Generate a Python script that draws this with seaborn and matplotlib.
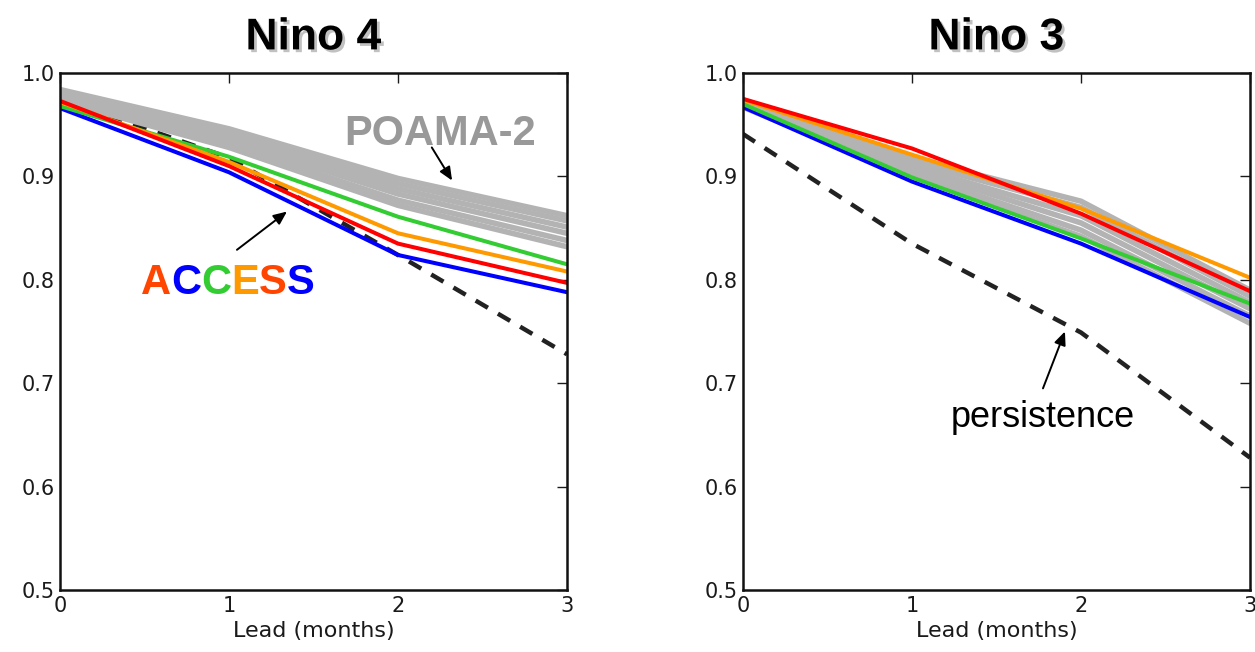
import matplotlib
matplotlib.use("Agg")
import matplotlib.pyplot as plt
import matplotlib.patheffects as pe
from matplotlib.offsetbox import TextArea, HPacker, AnnotationBbox
import pandas as pd
import seaborn as sns

LEAD = [0, 1, 2, 3]

# Nino 4 -- ACCESS members
N4_RED = [0.973, 0.910, 0.835, 0.797]
N4_ORANGE = [0.972, 0.914, 0.845, 0.808]
N4_GREEN = [0.968, 0.919, 0.861, 0.815]
N4_BLUE = [0.966, 0.904, 0.824, 0.788]
N4_PERSIST = [0.975, 0.918, 0.824, 0.728]
# Nino 4 -- POAMA-2 members (one list per lead)
N4_POAMA_L0 = [0.984, 0.981, 0.979, 0.977, 0.975, 0.973]
N4_POAMA_L1 = [0.946, 0.942, 0.939, 0.935, 0.931, 0.928]
N4_POAMA_L2 = [0.898, 0.893, 0.888, 0.883, 0.877, 0.872]
N4_POAMA_L3 = [0.862, 0.857, 0.851, 0.845, 0.838, 0.832]

# Nino 3
N3_RED = [0.975, 0.927, 0.864, 0.789]
N3_ORANGE = [0.974, 0.921, 0.869, 0.802]
N3_GREEN = [0.970, 0.899, 0.840, 0.777]
N3_BLUE = [0.967, 0.895, 0.835, 0.764]
N3_PERSIST = [0.941, 0.835, 0.749, 0.628]
N3_POAMA_L0 = [0.974, 0.972, 0.970, 0.969, 0.968, 0.967]
N3_POAMA_L1 = [0.918, 0.914, 0.910, 0.907, 0.903, 0.900]
N3_POAMA_L2 = [0.876, 0.870, 0.862, 0.855, 0.848, 0.842]
N3_POAMA_L3 = [0.790, 0.784, 0.778, 0.772, 0.765, 0.758]

ACCESS_NAMES = ["blue", "green", "orange", "red"]
ACCESS_COLORS = {"blue": "#0000ff", "green": "#33cc33", "orange": "#ff9900", "red": "#ff0000"}
LETTERS = list("ACCESS")
LETTER_COLORS = ["#ff4500", "#0000ff", "#33cc33", "#ff9900", "#ff4500", "#0000ff"]

YTICKS = [0.5, 0.6, 0.7, 0.8, 0.9, 1.0]


def access_frame(series):
    rows = []
    for name, vals in zip(ACCESS_NAMES, series):
        for lead, v in zip(LEAD, vals):
            rows.append({"lead": lead, "skill": v, "run": name})
    return pd.DataFrame(rows)


def poama_frame(per_lead):
    rows = []
    for lead, vals in zip(LEAD, per_lead):
        for member, v in enumerate(vals):
            rows.append({"lead": lead, "skill": v, "member": member})
    return pd.DataFrame(rows)


def draw_panel(ax, title, access, poama, persist):
    sns.lineplot(x=LEAD, y=persist, ax=ax, color="#222222", lw=3.2,
                 linestyle=(0, (3.2, 2.6)))
    sns.lineplot(data=poama_frame(poama), x="lead", y="skill", units="member",
                 estimator=None, ax=ax, color="#b3b3b3", lw=4.0)
    sns.lineplot(data=access_frame(access), x="lead", y="skill", hue="run",
                 palette=ACCESS_COLORS, ax=ax, lw=2.9, legend=False)
    ax.set_xlim(0, 3)
    ax.set_ylim(0.5, 1.0)
    ax.set_xticks(LEAD)
    ax.set_yticks(YTICKS)
    ax.set_yticklabels([f"{t:.1f}" for t in YTICKS])
    ax.set_xlabel("Lead (months)", fontsize=16, family="DejaVu Sans", color="#1a1a1a")
    ax.set_ylabel("")
    ax.tick_params(direction="in", top=True, right=True, length=7, width=1,
                   labelsize=15, pad=4, colors="#1a1a1a")
    for s in ax.spines.values():
        s.set_linewidth(1.8)
        s.set_color("#111111")
        s.set_visible(True)
    t = ax.set_title(title, fontsize=32, fontweight="bold", family="Liberation Sans",
                     color="black", pad=17)
    t.set_path_effects([pe.SimplePatchShadow(offset=(2, -2), shadow_rgbFace="0.6", alpha=0.6),
                        pe.Normal()])


sns.set_style("white")
plt.rcParams["font.family"] = ["DejaVu Sans"]

fig = plt.figure(figsize=(12.55, 6.52), dpi=100)
W, H = 1255, 652
ax1 = fig.add_axes([60 / W, 1 - 590 / H, 507 / W, 517 / H])
ax2 = fig.add_axes([743 / W, 1 - 590 / H, 507 / W, 517 / H])

draw_panel(ax1, "Nino 4", [N4_BLUE, N4_GREEN, N4_ORANGE, N4_RED],
           [N4_POAMA_L0, N4_POAMA_L1, N4_POAMA_L2, N4_POAMA_L3], N4_PERSIST)
draw_panel(ax2, "Nino 3", [N3_BLUE, N3_GREEN, N3_ORANGE, N3_RED],
           [N3_POAMA_L0, N3_POAMA_L1, N3_POAMA_L2, N3_POAMA_L3], N3_PERSIST)

arrow = dict(arrowstyle="-|>,head_length=0.8,head_width=0.35", color="black", lw=1.4,
             shrinkA=0, shrinkB=0)

# POAMA-2 label
ax1.text(2.25, 0.930, "POAMA-2", fontsize=30, fontweight="bold", color="#999999",
         family="Liberation Sans", ha="center", va="baseline")
ax1.annotate("", xy=(2.32, 0.896), xytext=(2.2, 0.928), arrowprops=arrow)

# multicoloured ACCESS label
parts = [TextArea(ch, textprops=dict(color=c, fontsize=30, fontweight="bold",
                                     family="Liberation Sans"))
         for ch, c in zip(LETTERS, LETTER_COLORS)]
box = HPacker(children=parts, pad=0, sep=0, align="baseline")
ax1.add_artist(AnnotationBbox(box, (0.994, 0.797), frameon=False, box_alignment=(0.5, 0.5),
                              pad=0))
ax1.annotate("", xy=(1.343, 0.866), xytext=(1.047, 0.829), arrowprops=arrow)

# persistence label
ax2.text(1.775, 0.658, "persistence", fontsize=26, color="black",
         family="Liberation Sans", ha="center", va="baseline")
ax2.annotate("", xy=(1.905, 0.750), xytext=(1.775, 0.695), arrowprops=arrow)

fig.savefig("out.png", dpi=100)
